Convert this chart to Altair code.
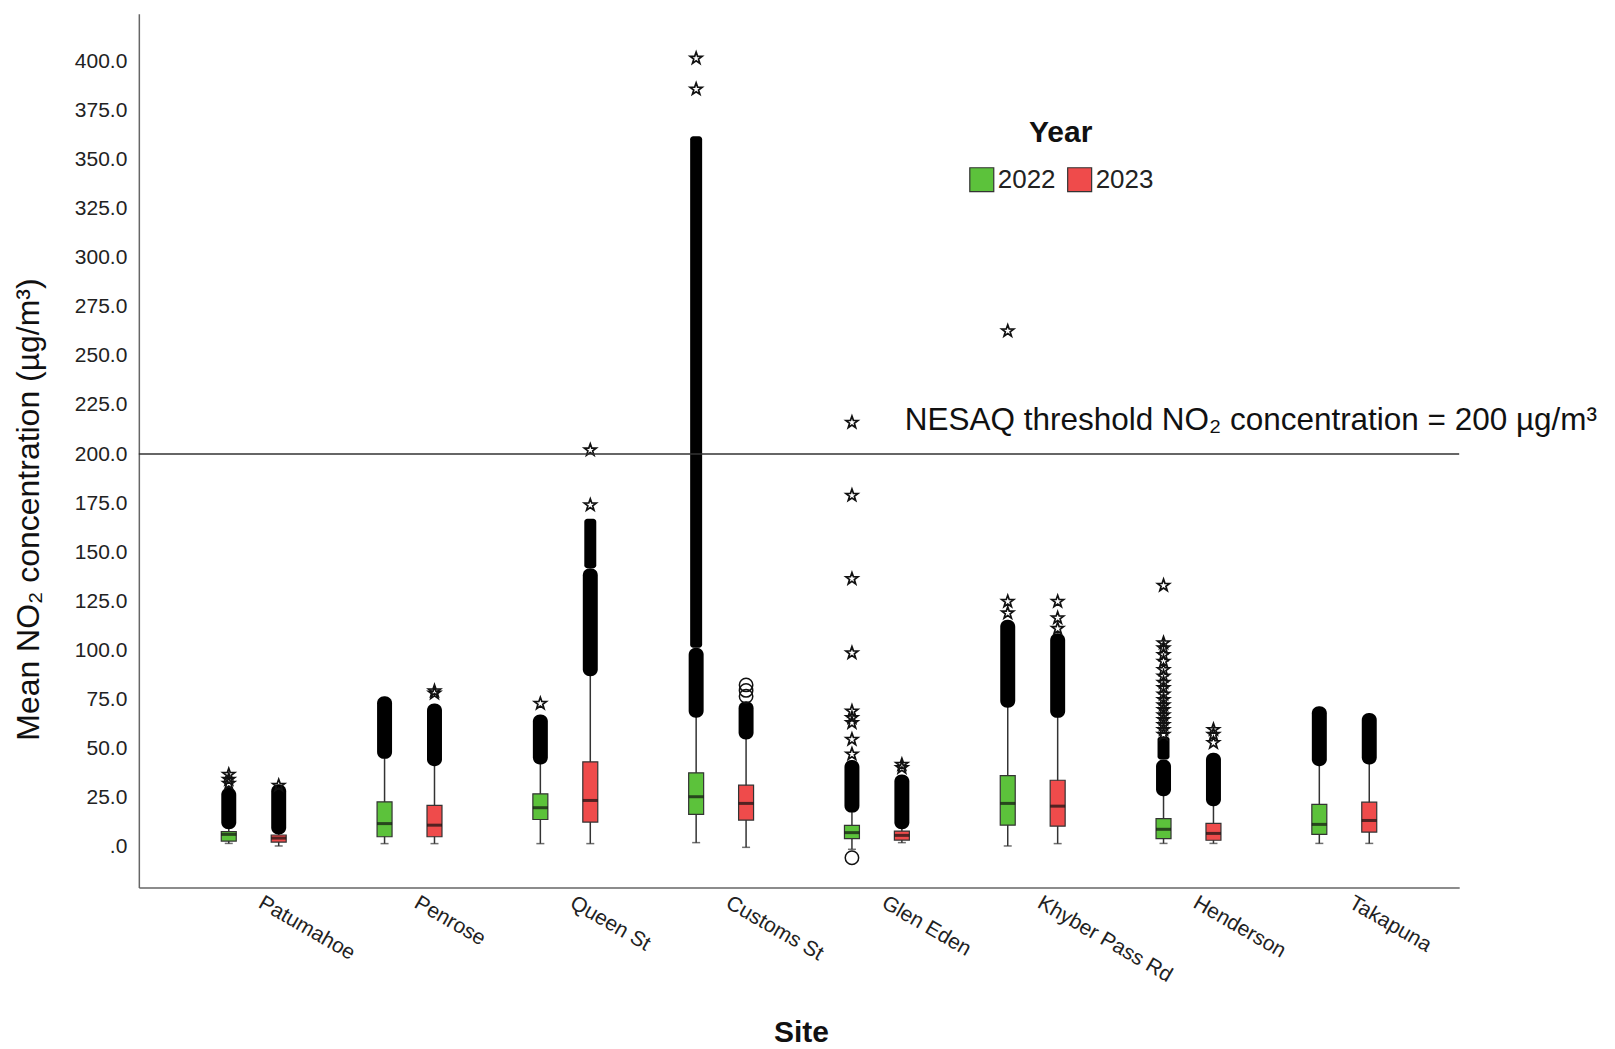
import altair as alt
import pandas as pd

sites = ["Patumahoe", "Penrose", "Queen St", "Customs St", "Glen Eden",
         "Khyber Pass Rd", "Henderson", "Takapuna"]
years = ["2022", "2023"]

# box statistics (µg/m³)
q1_2022 = [2.7, 4.9, 13.7, 16.3, 3.9, 10.8, 3.9, 6.1]
med_2022 = [6.1, 11.6, 19.7, 25.3, 7.0, 21.9, 8.7, 11.2]
q3_2022 = [7.5, 22.7, 26.8, 37.5, 10.7, 36.1, 14.1, 21.4]
wlo_2022 = [1.5, 1.4, 1.4, 1.9, -1.5, 0.2, 1.5, 1.5]
whi_2022 = [9.5, 45.0, 42.0, 66.0, 17.5, 71.0, 26.0, 41.0]

q1_2023 = [2.2, 4.9, 12.4, 13.4, 3.2, 10.3, 3.1, 7.3]
med_2023 = [4.2, 10.8, 23.4, 21.9, 5.6, 20.5, 6.6, 13.2]
q3_2023 = [5.8, 20.9, 43.1, 31.2, 7.8, 33.7, 11.7, 22.5]
wlo_2023 = [0.2, 1.4, 1.4, -0.5, 1.9, 1.4, 1.5, 1.5]
whi_2023 = [7.0, 41.0, 87.0, 55.0, 9.0, 66.0, 21.0, 42.0]

# dense bands of overlapping outlier markers (lowest / highest extent)
dense_lo_2022 = [8.7, 44.6, 41.7, 65.6, 17.2, 70.6, 25.6, 40.9]
dense_hi_2022 = [29.9, 76.5, 67.2, 101.3, 44.0, 115.5, 44.3, 71.4]
dense_lo_2023 = [6.1, 40.9, 86.7, 54.5, 8.7, 65.5, 20.5, 41.7]
dense_hi_2023 = [31.6, 72.8, 141.8, 74.0, 36.6, 108.7, 47.7, 68.0]

# dense columns of overlapping extreme (star) markers
starcol_site = ["Queen St", "Customs St", "Henderson"]
starcol_year = ["2023", "2022", "2022"]
starcol_lo = [141.8, 101.3, 44.3]
starcol_hi = [167.0, 362.0, 56.0]

# individual extreme values (stars)
star_site = (["Patumahoe"] * 3 + ["Patumahoe"] + ["Penrose"] * 2 + ["Queen St"]
             + ["Queen St"] * 2 + ["Customs St"] * 2 + ["Glen Eden"] * 9
             + ["Glen Eden"] * 2 + ["Khyber Pass Rd"] * 3 + ["Khyber Pass Rd"] * 3
             + ["Henderson"] * 18 + ["Henderson"] * 3)
star_year = (["2022"] * 3 + ["2023"] + ["2023"] * 2 + ["2022"]
             + ["2023"] * 2 + ["2022"] * 2 + ["2022"] * 9
             + ["2023"] * 2 + ["2022"] * 3 + ["2023"] * 3
             + ["2022"] * 18 + ["2023"] * 3)
star_value = ([32.0, 34.1, 36.6] + [31.0] + [78.0, 79.2] + [72.8]
              + [174.0, 202.0] + [386.0, 401.7]
              + [47.0, 54.5, 63.0, 65.5, 68.9, 98.6, 136.4, 178.9, 216.1]
              + [40.1, 41.7] + [118.9, 124.8, 262.7] + [111.0, 116.4, 124.8]
              + [57.0, 59.5, 62.0, 64.6, 67.0, 69.7, 72.0, 74.8, 77.5, 80.8,
                 83.5, 86.7, 90.0, 94.3, 97.7, 101.1, 103.7, 133.0]
              + [52.8, 57.0, 59.5])

# individual outliers (circles)
circ_site = ["Glen Eden", "Customs St", "Customs St", "Customs St"]
circ_year = ["2022", "2023", "2023", "2023"]
circ_value = [-5.8, 76.5, 79.5, 82.3]

y_ticks = [0, 25, 50, 75, 100, 125, 150, 175, 200, 225, 250, 275, 300,
           325, 350, 375, 400]
threshold = 200
threshold_label = "NESAQ threshold NO\u2082 concentration = 200 \u00b5g/m\u00b3"

GREEN = "#5cc23b"
RED = "#ef4b4b"
FONT = "Liberation Sans"

rows = []
for i, s in enumerate(sites):
    rows.append(dict(Site=s, Year="2022", q1=q1_2022[i], med=med_2022[i], q3=q3_2022[i],
                     wlo=wlo_2022[i], whi=whi_2022[i], dlo=dense_lo_2022[i], dhi=dense_hi_2022[i]))
    rows.append(dict(Site=s, Year="2023", q1=q1_2023[i], med=med_2023[i], q3=q3_2023[i],
                     wlo=wlo_2023[i], whi=whi_2023[i], dlo=dense_lo_2023[i], dhi=dense_hi_2023[i]))
box_df = pd.DataFrame(rows)
starcol_df = pd.DataFrame(dict(Site=starcol_site, Year=starcol_year, lo=starcol_lo, hi=starcol_hi))
star_df = pd.DataFrame(dict(Site=star_site, Year=star_year, v=star_value))
circ_df = pd.DataFrame(dict(Site=circ_site, Year=circ_year, v=circ_value))
thr_df = pd.DataFrame(dict(v=[threshold], label=[threshold_label]))

x_enc = alt.X("Site:N", sort=sites,
              scale=alt.Scale(paddingInner=0.359, paddingOuter=0.417),
              axis=alt.Axis(title="Site", labelAngle=30, labelAlign="left",
                            labelBaseline="top", labelPadding=4, labelOffset=12,
                            labelFontSize=21,
                            labelColor="#222", labelFont=FONT,
                            titleFont=FONT, titleFontSize=30, titleFontWeight="bold",
                            titleColor="#111", titleX=663, titleY=145,
                            titleBaseline="middle", titleAlign="center",
                            domainColor="#666", domainWidth=1.5, ticks=False))
xo_enc = alt.XOffset("Year:N", sort=years, scale=alt.Scale(paddingInner=0, paddingOuter=0))
y_scale = alt.Scale(domain=[-21, 424.5], nice=False, zero=False)
y_axis = alt.Axis(title="Mean NO\u2082 concentration (\u00b5g/m\u00b3)", values=y_ticks,
                  labelExpr="datum.value == 0 ? '.0' : format(datum.value, '.1f')",
                  labelFontSize=21, labelColor="#222", labelFont=FONT, labelPadding=12,
                  titleFont=FONT, titleFontSize=32, titleFontWeight="normal",
                  titleColor="#111", titleX=-110, titleY=496, titleAngle=-90,
                  titleAlign="center", titleBaseline="middle",
                  domainColor="#666", domainWidth=1.5, ticks=False, grid=False)

base = alt.Chart(box_df)

whisk = base.mark_rule(color="#333", strokeWidth=1.5).encode(
    x=x_enc, xOffset=xo_enc,
    y=alt.Y("wlo:Q", scale=y_scale, axis=y_axis), y2="whi:Q")
cap = base.mark_tick(color="#333", size=8, thickness=1.5).encode(
    x=x_enc, xOffset=xo_enc, y=alt.Y("wlo:Q", scale=y_scale))
boxes = base.mark_bar(size=15, stroke="#333", strokeWidth=1.2).encode(
    x=x_enc, xOffset=xo_enc,
    y=alt.Y("q1:Q", scale=y_scale), y2="q3:Q",
    color=alt.Color("Year:N", scale=alt.Scale(domain=years, range=[GREEN, RED]),
                    legend=alt.Legend(title="Year", orient="none", legendX=831, legendY=105,
                                      direction="horizontal", titleAnchor="middle",
                                      titleAlign="center",
                                      titleFontSize=30, titleFont=FONT, titleFontWeight="bold",
                                      titleColor="#111", titlePadding=18,
                                      labelFont=FONT, labelFontSize=26, labelColor="#222",
                                      labelOffset=3, columnPadding=9,
                                      symbolType="square", symbolSize=576,
                                      symbolStrokeColor="#333", symbolStrokeWidth=1.2,
                                      symbolOpacity=1, padding=0)))
medians = base.mark_tick(color="#111", size=15, thickness=3).encode(
    x=x_enc, xOffset=xo_enc, y=alt.Y("med:Q", scale=y_scale))
dense = base.mark_bar(size=15, color="black", cornerRadius=7).encode(
    x=x_enc, xOffset=xo_enc, y=alt.Y("dlo:Q", scale=y_scale), y2="dhi:Q")
starcol = alt.Chart(starcol_df).mark_bar(size=12, color="black", cornerRadius=3).encode(
    x=x_enc, xOffset=xo_enc, y=alt.Y("lo:Q", scale=y_scale), y2="hi:Q")

STAR = ("M0,-1L0.235,-0.324L0.951,-0.309L0.380,0.124L0.588,0.809L0,0.4"
        "L-0.588,0.809L-0.380,0.124L-0.951,-0.309L-0.235,-0.324Z")
stars = alt.Chart(star_df).mark_point(shape=STAR, size=160, filled=False,
                                      color="#111", strokeWidth=1.7, opacity=1).encode(
    x=x_enc, xOffset=xo_enc, y=alt.Y("v:Q", scale=y_scale))
circles = alt.Chart(circ_df).mark_point(shape="circle", size=180, filled=False,
                                        color="#111", strokeWidth=1.5, opacity=1).encode(
    x=x_enc, xOffset=xo_enc, y=alt.Y("v:Q", scale=y_scale))

thr_rule = alt.Chart(thr_df).mark_rule(color="#333", strokeWidth=1.5).encode(
    y=alt.Y("v:Q", scale=y_scale))
thr_text = alt.Chart(thr_df).mark_text(align="left", baseline="alphabetic", fontSize=31.5,
                                       font=FONT, color="#111", dx=28, dy=-24).encode(
    x=alt.datum("Glen Eden"), y=alt.Y("v:Q", scale=y_scale), text="label:N")

chart = alt.layer(whisk, cap, boxes, medians, dense, starcol, stars, circles,
                  thr_rule, thr_text).properties(
    width=1322, height=875,
    autosize=alt.AutoSizeParams(type="none"),
    padding={"left": 131, "top": 5, "right": 148, "bottom": 161},
).configure_view(stroke=None).configure_axis(grid=False)

chart.save("out.html", embed_options={"renderer": "svg", "actions": False})
